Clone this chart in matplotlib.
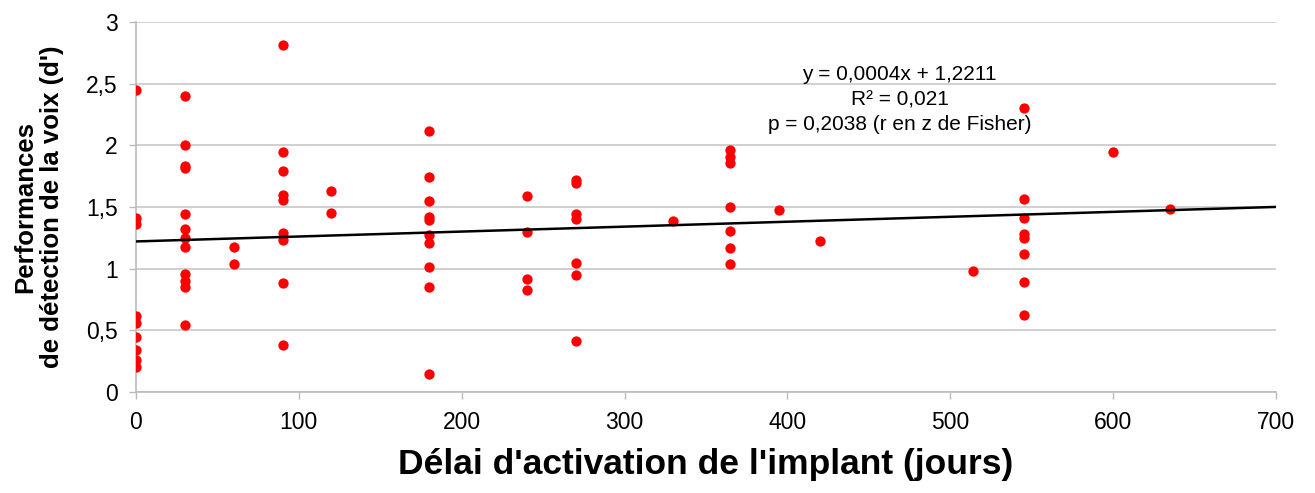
import matplotlib
matplotlib.use("Agg")
import matplotlib.pyplot as plt
import numpy as np

plt.rcParams["font.family"] = ["Liberation Sans", "DejaVu Sans"]

# délai (jours) et d'
delai = [0, 0, 0, 0, 0, 0, 0, 0, 0,
         30, 30, 30, 30, 30, 30, 30, 30, 30, 30, 30, 30,
         60, 60,
         90, 90, 90, 90, 90, 90, 90, 90, 90,
         120, 120,
         180, 180, 180, 180, 180, 180, 180, 180, 180, 180,
         240, 240, 240, 240,
         270, 270, 270, 270, 270, 270, 270,
         330,
         365, 365, 365, 365, 365, 365, 365,
         395, 420, 514,
         545, 545, 545, 545, 545, 545, 545, 545,
         600, 635]
dprime = [2.45, 1.41, 1.36, 0.62, 0.556, 0.443, 0.34, 0.26, 0.205,
          2.40, 2.00, 1.83, 1.82, 1.445, 1.326, 1.25, 1.178, 0.96, 0.90, 0.85, 0.545,
          1.178, 1.037,
          2.817, 1.947, 1.796, 1.596, 1.561, 1.286, 1.232, 0.88, 0.378,
          1.631, 1.453,
          2.115, 1.74, 1.553, 1.416, 1.394, 1.272, 1.205, 1.01, 0.851, 0.148,
          1.591, 1.294, 0.918, 0.829,
          1.723, 1.696, 1.44, 1.40, 1.048, 0.948, 0.416,
          1.388,
          1.961, 1.907, 1.858, 1.502, 1.305, 1.169, 1.037,
          1.475, 1.224, 0.978,
          2.304, 1.564, 1.413, 1.278, 1.245, 1.118, 0.891, 0.621,
          1.947, 1.485]

pente, ordo = 0.0004, 1.2211
eq_txt = "y = 0,0004x + 1,2211\nR² = 0,021\np = 0,2038 (r en z de Fisher)"

yticks = [0, 0.5, 1, 1.5, 2, 2.5, 3]
ylabels = ["0", "0,5", "1", "1,5", "2", "2,5", "3"]
xticks = [0, 100, 200, 300, 400, 500, 600, 700]

fig = plt.figure(figsize=(13.15, 4.93), dpi=100)
ax = fig.add_axes([0.1034, 0.205, 0.8669, 0.750])

ax.scatter(delai, dprime, s=55, color="#ff0000", zorder=3, linewidths=0)
xl = np.array([0, 700])
ax.plot(xl, pente * xl + ordo, color="black", lw=1.8, zorder=4)

ax.set_xlim(0, 700)
ax.set_ylim(0, 3)
ax.set_xticks(xticks)
ax.set_yticks(yticks)
ax.set_yticklabels(ylabels)
ax.tick_params(axis="both", labelsize=16.5, color="#bbbbbb", length=5, width=1)
ax.tick_params(axis="x", pad=9)
ax.tick_params(axis="y", pad=8)
ax.grid(axis="y", color="#c8c8c8", lw=1.2)
ax.set_axisbelow(True)
for s in ["top", "right"]:
    ax.spines[s].set_visible(False)
for s in ["left", "bottom"]:
    ax.spines[s].set_color("#bbbbbb")
    ax.spines[s].set_linewidth(1.2)

# équation de la droite de tendance
ax.text(469, 2.37, eq_txt, ha="center", va="center", fontsize=15, linespacing=1.4)

ax.set_ylabel("Performances\nde détection de la voix (d')", fontsize=18.5, fontweight="bold",
              labelpad=16, linespacing=1.15)
ax.set_xlabel("Délai d'activation de l'implant (jours)", fontsize=25.5, fontweight="bold", labelpad=10)

fig.savefig("out.png", dpi=100)
